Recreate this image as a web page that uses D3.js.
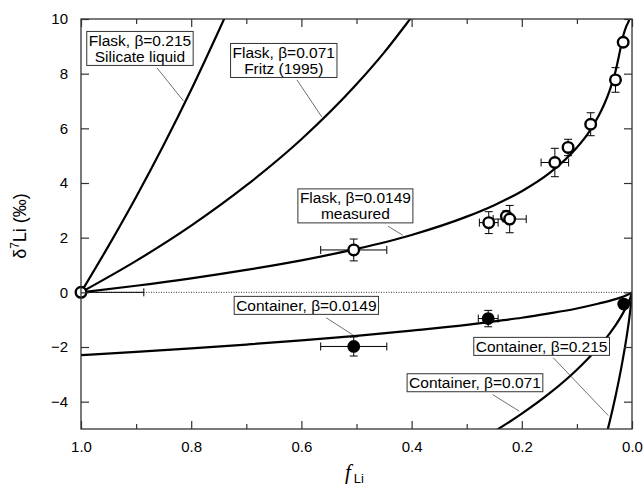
<!DOCTYPE html>
<html>
<head>
<meta charset="utf-8">
<script src="https://cdn.jsdelivr.net/npm/d3@7"></script>
<style>
  body { margin: 0; background: #fff; }
  svg { display: block; font-family: "Liberation Sans", Arial, sans-serif; }
</style>
</head>
<body>
<div id="chart"></div>
<script>
// model curves (f_Li, delta7Li)
const flask0149F = [1, 0.9, 0.8, 0.7, 0.6, 0.5, 0.4, 0.3, 0.25, 0.2, 0.15, 0.1, 0.08, 0.06, 0.05, 0.04, 0.03, 0.02, 0.015, 0.01, 0.005, 0.002];
const flask0149D = [0, 0.24, 0.51, 0.82, 1.17, 1.59, 2.1, 2.77, 3.19, 3.7, 4.36, 5.3, 5.81, 6.48, 6.9, 7.42, 8.08, 9.0, 9.45, 9.75, 9.98, 10.3];
const flask071F = [1, 0.9, 0.8, 0.7, 0.6, 0.5, 0.45, 0.4, 0.38];
const flask071D = [0, 1.15, 2.44, 3.91, 5.6, 7.61, 8.77, 10.07, 10.6];
const flask215F = [1, 0.95, 0.9, 0.85, 0.8, 0.75, 0.72];
const flask215D = [0, 1.7, 3.49, 5.39, 7.41, 9.57, 10.9];
const cont0149F = [1, 0.9, 0.8, 0.7, 0.6, 0.5, 0.4, 0.3, 0.25, 0.2, 0.15, 0.1, 0.06, 0.03, 0.01, 0];
const cont0149D = [-2.3, -2.18, -2.05, -1.91, -1.76, -1.59, -1.4, -1.19, -1.06, -0.93, -0.77, -0.59, -0.41, -0.25, -0.11, 0];
const cont071F = [0.3, 0.25, 0.2, 0.15, 0.1, 0.08, 0.06, 0.04, 0.03, 0.02, 0.01, 0.005, 0.002, 0];
const cont071D = [-5.68, -5.09, -4.44, -3.7, -2.83, -2.43, -1.99, -1.49, -1.21, -0.89, -0.52, -0.3, -0.14, 0];
const cont215F = [0.05, 0.045, 0.04, 0.03, 0.02, 0.01, 0.005, 0.002, 0.001, 0];
const cont215D = [-5.49, -5.09, -4.69, -3.81, -2.82, -1.66, -0.96, -0.46, -0.26, 0];

// measured points
const flaskF = [1.0, 0.505, 0.26, 0.228, 0.222, 0.14, 0.116, 0.075, 0.03, 0.016];
const flaskD = [0, 1.55, 2.55, 2.78, 2.68, 4.75, 5.3, 6.15, 7.77, 9.15];
const flaskFErr = [0.114, 0.06, 0.017, 0, 0.03, 0.025, 0, 0, 0, 0];
const flaskDErr = [0, 0.4, 0.4, 0.2, 0.5, 0.52, 0.3, 0.42, 0.45, 0];
const contF = [0.505, 0.261, 0.015];
const contD = [-1.98, -0.96, -0.43];
const contFErr = [0.06, 0.018, 0];
const contDErr = [0.35, 0.3, 0.1];

// tick labels
const xMajor = [1.0, 0.8, 0.6, 0.4, 0.2, 0.0];
const xMinor = [0.9, 0.7, 0.5, 0.3, 0.1];
const yMajor = [-4, -2, 0, 2, 4, 6, 8, 10];

const width = 643, height = 488;
const margin = { top: 19, right: 11, bottom: 59, left: 81 };

const svg = d3.select('#chart').append('svg')
  .attr('width', width).attr('height', height);

const x = d3.scaleLinear().domain([1, 0]).range([margin.left, width - margin.right]);
const y = d3.scaleLinear().domain([-5, 10]).range([height - margin.bottom, margin.top]);

svg.append('clipPath').attr('id', 'plot')
  .append('rect')
  .attr('x', x(1)).attr('y', y(10))
  .attr('width', x(0) - x(1)).attr('height', y(-5) - y(10));

const zip = (fs, ds) => fs.map((f, i) => ({ f: f, d: ds[i] }));

// zero line
svg.append('line')
  .attr('x1', x(1)).attr('x2', x(0)).attr('y1', y(0)).attr('y2', y(0))
  .attr('stroke', '#000').attr('stroke-width', 0.8)
  .attr('stroke-dasharray', '1,1.5');

const line = d3.line().x(d => x(d.f)).y(d => y(d.d)).curve(d3.curveMonotoneX);

const curves = [
  zip(flask0149F, flask0149D), zip(flask071F, flask071D), zip(flask215F, flask215D),
  zip(cont0149F, cont0149D), zip(cont071F, cont071D), zip(cont215F, cont215D)
];

svg.append('g').attr('clip-path', 'url(#plot)')
  .selectAll('path').data(curves).join('path')
  .attr('d', line)
  .attr('fill', 'none').attr('stroke', '#000').attr('stroke-width', 2.2);

// error bars
function errorBars(fs, ds, fe, de) {
  const g = svg.append('g').attr('clip-path', 'url(#plot)')
    .attr('stroke', '#000').attr('stroke-width', 1);
  const cap = 4;
  fs.forEach((f, i) => {
    const cx = x(f), cy = y(ds[i]);
    if (fe[i] > 0) {
      const x1 = x(f + fe[i]), x2 = x(f - fe[i]);
      g.append('line').attr('x1', x1).attr('x2', x2).attr('y1', cy).attr('y2', cy);
      g.append('line').attr('x1', x1).attr('x2', x1).attr('y1', cy - cap).attr('y2', cy + cap);
      g.append('line').attr('x1', x2).attr('x2', x2).attr('y1', cy - cap).attr('y2', cy + cap);
    }
    if (de[i] > 0) {
      const y1 = y(ds[i] + de[i]), y2 = y(ds[i] - de[i]);
      g.append('line').attr('x1', cx).attr('x2', cx).attr('y1', y1).attr('y2', y2);
      g.append('line').attr('x1', cx - cap).attr('x2', cx + cap).attr('y1', y1).attr('y2', y1);
      g.append('line').attr('x1', cx - cap).attr('x2', cx + cap).attr('y1', y2).attr('y2', y2);
    }
  });
}
errorBars(flaskF, flaskD, flaskFErr, flaskDErr);
errorBars(contF, contD, contFErr, contDErr);

svg.append('g').selectAll('circle').data(zip(flaskF, flaskD)).join('circle')
  .attr('cx', d => x(d.f)).attr('cy', d => y(d.d)).attr('r', 5.3)
  .attr('fill', '#fff').attr('stroke', '#000').attr('stroke-width', 2.4);

svg.append('g').selectAll('circle').data(zip(contF, contD)).join('circle')
  .attr('cx', d => x(d.f)).attr('cy', d => y(d.d)).attr('r', 6.4)
  .attr('fill', '#000');

// axes, ticks inward
const axisColor = '#333';
function styleAxis(g) {
  g.select('.domain').remove();
  g.selectAll('line').attr('stroke', axisColor).attr('stroke-width', 1.2);
  g.selectAll('text').attr('font-size', 15).attr('fill', '#000').attr('font-family', null);
}

svg.append('g').attr('transform', `translate(0,${y(-5)})`)
  .call(d3.axisBottom(x).tickValues(xMajor).tickSize(-8).tickPadding(12).tickFormat(d3.format('.1f')))
  .call(styleAxis);
svg.append('g').attr('transform', `translate(0,${y(-5)})`)
  .call(d3.axisBottom(x).tickValues(xMinor).tickSize(-5).tickFormat(''))
  .call(styleAxis);
svg.append('g').attr('transform', `translate(0,${y(10)})`)
  .call(d3.axisTop(x).tickValues(xMajor).tickSize(-8).tickFormat(''))
  .call(styleAxis);
svg.append('g').attr('transform', `translate(0,${y(10)})`)
  .call(d3.axisTop(x).tickValues(xMinor).tickSize(-5).tickFormat(''))
  .call(styleAxis);
svg.append('g').attr('transform', `translate(${x(1)},0)`)
  .call(d3.axisLeft(y).tickValues(yMajor).tickSize(-8).tickPadding(13).tickFormat(d3.format('d')))
  .call(styleAxis);
svg.append('g').attr('transform', `translate(${x(0)},0)`)
  .call(d3.axisRight(y).tickValues(yMajor).tickSize(-8).tickFormat(''))
  .call(styleAxis);

svg.append('rect')
  .attr('x', x(1)).attr('y', y(10))
  .attr('width', x(0) - x(1)).attr('height', y(-5) - y(10))
  .attr('fill', 'none').attr('stroke', axisColor).attr('stroke-width', 1.3);

// axis titles
const yTitle = svg.append('text')
  .attr('transform', `translate(26,226) rotate(-90)`)
  .attr('text-anchor', 'middle').attr('font-size', 18);
yTitle.append('tspan').text('δ');
yTitle.append('tspan').attr('font-size', 12).attr('dy', -7).text('7');
yTitle.append('tspan').attr('dy', 7).text('Li (‰)');

const xTitle = svg.append('text')
  .attr('x', 345).attr('y', 479).attr('font-size', 21);
xTitle.append('tspan').attr('font-family', '"Liberation Serif", serif').attr('font-style', 'italic').text('f');
xTitle.append('tspan').attr('font-size', 13).attr('dy', 4).attr('dx', 3).text('Li');

// labelled curves: box centre and leader in data units
const notes = [
  { lines: ['Flask, β=0.215', 'Silicate liquid'], at: [0.893, 8.92], from: [0.862, 8.21], to: [0.814, 7.0] },
  { lines: ['Flask, β=0.071', 'Fritz (1995)'], at: [0.632, 8.48], from: [0.608, 7.77], to: [0.563, 6.42] },
  { lines: ['Flask, β=0.0149', 'measured'], at: [0.502, 3.16], from: [0.443, 2.42], to: [0.416, 2.09] },
  { lines: ['Container, β=0.0149'], at: [0.591, -0.48], from: [0.555, -0.93], to: [0.505, -1.58] },
  { lines: ['Container, β=0.215'], at: [0.164, -1.98], from: [0.143, -2.39], to: [0.043, -4.51] },
  { lines: ['Container, β=0.071'], at: [0.285, -3.31], from: [0.253, -3.74], to: [0.2045, -4.35] }
];

notes.forEach(n => {
  svg.append('line')
    .attr('x1', x(n.from[0])).attr('y1', y(n.from[1]))
    .attr('x2', x(n.to[0])).attr('y2', y(n.to[1]))
    .attr('stroke', '#333').attr('stroke-width', 0.7);
  const g = svg.append('g');
  const rect = g.append('rect');
  const lh = 16;
  const t = g.append('text').attr('text-anchor', 'middle').attr('font-size', 15.5);
  n.lines.forEach((s, i) => {
    t.append('tspan').attr('x', x(n.at[0]))
      .attr('y', y(n.at[1]) + (i - (n.lines.length - 1) / 2) * lh)
      .attr('dy', '0.35em').text(s);
  });
  const b = t.node().getBBox();
  rect.attr('x', b.x - 2).attr('y', b.y - 0.5)
    .attr('width', b.width + 4).attr('height', b.height + 1)
    .attr('fill', '#fff').attr('stroke', '#333').attr('stroke-width', 1);
});
</script>
</body>
</html>
